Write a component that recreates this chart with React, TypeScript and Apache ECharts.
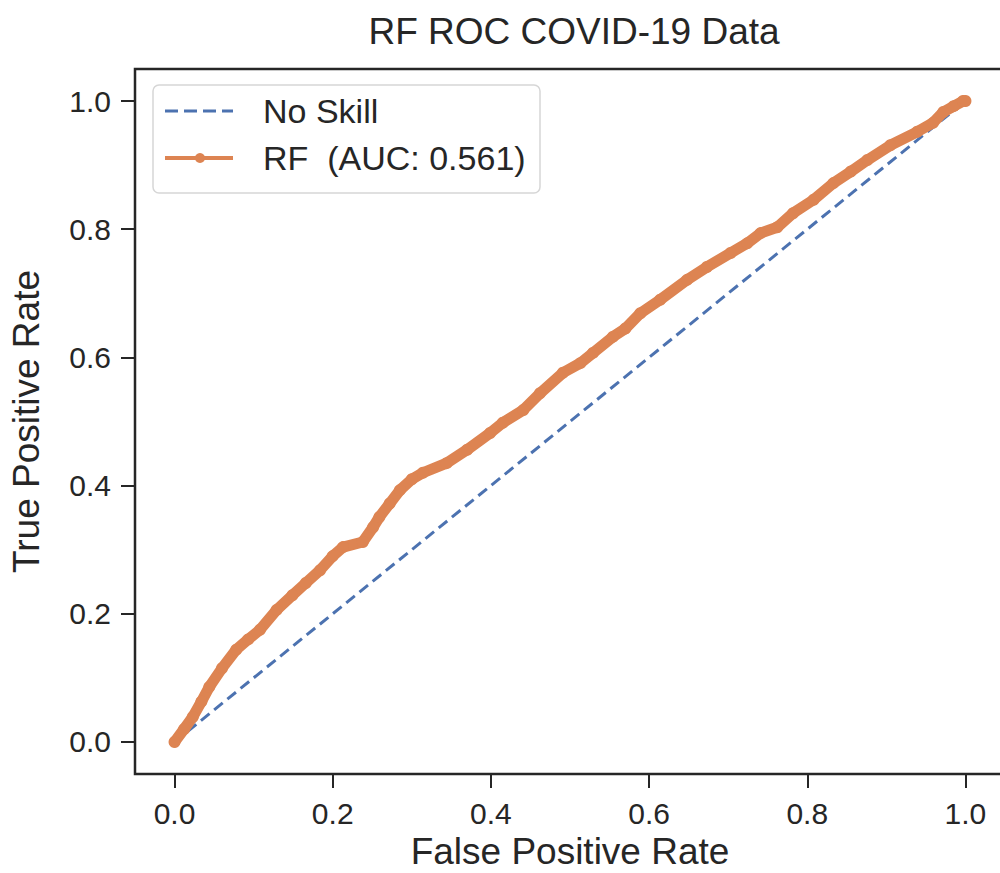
import React, { useEffect, useRef } from "react";
import * as echarts from "echarts";

const titleText = "RF ROC COVID-19 Data";
const xAxisName = "False Positive Rate";
const yAxisName = "True Positive Rate";
const tickValues = [0, 0.2, 0.4, 0.6, 0.8, 1.0];

const noSkillName = "No Skill";
const noSkillFpr = [0, 1];
const noSkillTpr = [0, 1];

const rfName = "RF\u00a0 (AUC: 0.561)";
const rfFpr = [0, 0.012, 0.023, 0.034, 0.044, 0.06, 0.078, 0.093, 0.108, 0.129, 0.149, 0.166, 0.184, 0.2, 0.213, 0.238, 0.251, 0.259, 0.272, 0.285, 0.3, 0.314, 0.344, 0.37, 0.399, 0.415, 0.441, 0.462, 0.491, 0.513, 0.529, 0.554, 0.57, 0.589, 0.614, 0.648, 0.673, 0.703, 0.724, 0.741, 0.762, 0.782, 0.808, 0.833, 0.855, 0.876, 0.905, 0.939, 0.959, 0.972, 0.985, 0.997, 1.0];
const rfTpr = [0, 0.02, 0.039, 0.063, 0.086, 0.115, 0.144, 0.16, 0.175, 0.206, 0.229, 0.248, 0.268, 0.29, 0.304, 0.312, 0.335, 0.351, 0.372, 0.393, 0.41, 0.42, 0.435, 0.456, 0.482, 0.498, 0.518, 0.544, 0.576, 0.591, 0.607, 0.632, 0.645, 0.669, 0.69, 0.721, 0.741, 0.763, 0.778, 0.794, 0.803, 0.825, 0.846, 0.872, 0.89, 0.908, 0.931, 0.952, 0.966, 0.983, 0.992, 1.0, 1.0];

const BLUE = "#4c72b0";
const ORANGE = "#dd8452";
const INK = "#262626";
const FONT = "'Liberation Sans', Arial, sans-serif";

export default function App() {
  const ref = useRef<HTMLDivElement>(null);
  useEffect(() => {
    document.body.style.margin = "0";
    const chart = echarts.init(ref.current!, null, { renderer: "svg" });
    const axisCommon = {
      type: "value" as const,
      min: -0.05,
      max: 1.05,
      axisLine: { show: false, onZero: false },
      splitLine: { show: false },
      axisTick: {
        show: true,
        inside: false,
        customValues: tickValues,
        length: 14,
        lineStyle: { color: INK, width: 2 },
      },
      axisLabel: {
        customValues: tickValues,
        formatter: (v: number) => v.toFixed(1),
        color: INK,
        fontSize: 30,
        fontFamily: FONT,
      },
      nameLocation: "middle" as const,
      nameTextStyle: { color: INK, fontSize: 37, fontFamily: FONT },
    };
    chart.setOption({
      animation: false,
      backgroundColor: "#ffffff",
      title: {
        text: titleText,
        left: 569,
        top: 8,
        textAlign: "center",
        textStyle: { color: INK, fontSize: 37, fontWeight: "normal", fontFamily: FONT },
      },
      grid: {
        left: 135,
        width: 870,
        top: 69,
        height: 705,
        containLabel: false,
        outerBoundsMode: "none",
        show: true,
        borderColor: INK,
        borderWidth: 2.5,
        backgroundColor: "#ffffff",
      },
      xAxis: {
        ...axisCommon,
        name: xAxisName,
        nameGap: 59,
        axisLabel: { ...axisCommon.axisLabel, margin: 24 },
      },
      yAxis: {
        ...axisCommon,
        name: yAxisName,
        nameGap: 90,
        axisLabel: { ...axisCommon.axisLabel, margin: 24 },
      },
      series: [
        {
          type: "line",
          name: noSkillName,
          data: noSkillFpr.map((x, i) => [x, noSkillTpr[i]]),
          symbol: "none",
          lineStyle: { color: BLUE, width: 3, type: [11, 6] },
          z: 2,
        },
        {
          type: "line",
          name: rfName,
          data: rfFpr.map((x, i) => [x, rfTpr[i]]),
          symbol: "circle",
          symbolSize: 12,
          showAllSymbol: true,
          itemStyle: { color: ORANGE },
          lineStyle: { color: ORANGE, width: 11, cap: "round", join: "round" },
          z: 3,
        },
      ],
      graphic: [
        {
          type: "group",
          z: 100,
          children: [
            {
              type: "rect",
              shape: { x: 153, y: 85, width: 387, height: 108, r: 6 },
              style: { fill: "rgba(255,255,255,0.85)", stroke: "#d6d6d6", lineWidth: 1.5 },
            },
            {
              type: "line",
              shape: { x1: 165, y1: 111, x2: 233, y2: 111 },
              style: { stroke: BLUE, lineWidth: 3, lineDash: [13, 6] },
            },
            {
              type: "text",
              x: 263,
              y: 111,
              style: { text: noSkillName, fill: INK, fontSize: 34, fontFamily: FONT, verticalAlign: "middle" },
            },
            {
              type: "line",
              shape: { x1: 165, y1: 158, x2: 233, y2: 158 },
              style: { stroke: ORANGE, lineWidth: 4 },
            },
            {
              type: "circle",
              shape: { cx: 200, cy: 158, r: 5 },
              style: { fill: ORANGE },
            },
            {
              type: "text",
              x: 263,
              y: 158,
              style: { text: rfName, fill: INK, fontSize: 34, fontFamily: FONT, verticalAlign: "middle" },
            },
          ],
        },
      ],
    });
    return () => chart.dispose();
  }, []);
  return <div ref={ref} style={{ width: 1000, height: 873 }} />;
}
